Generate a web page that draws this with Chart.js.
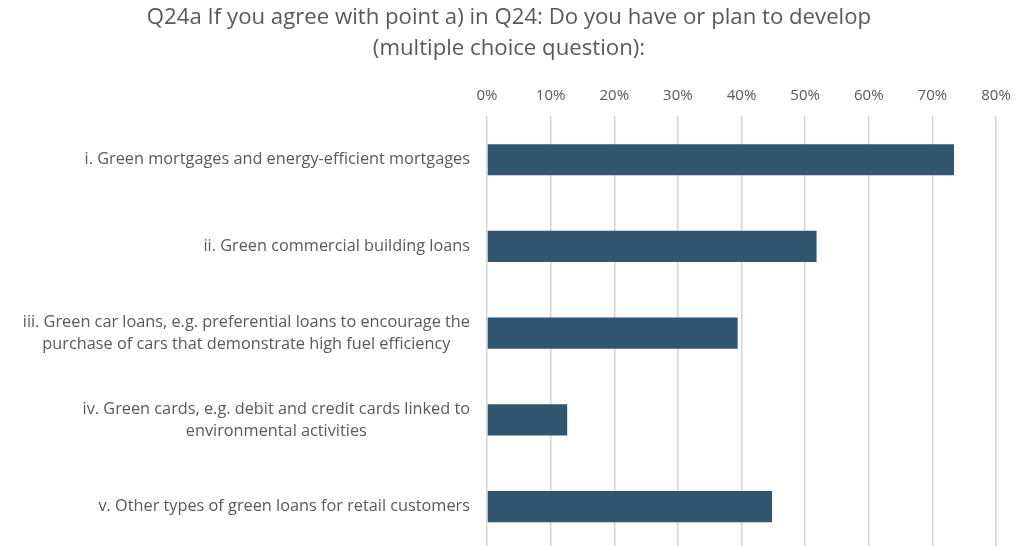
<!DOCTYPE html>
<html>
<head>
<meta charset="utf-8">
<script src="https://cdn.jsdelivr.net/npm/chart.js@4/dist/chart.umd.min.js"></script>
<style>
  html, body { margin: 0; padding: 0; background: #fff; overflow: hidden; }
  #wrap { position: relative; width: 1018px; height: 550px; }
</style>
</head>
<body>
<div id="wrap"><canvas id="chart"></canvas></div>
<script>
// Chart data
const categories = [
    ['i. Green mortgages and energy-efficient mortgages'],
    ['ii. Green commercial building loans'],
    ['iii. Green car loans, e.g. preferential loans to encourage the', 'purchase of cars that demonstrate high fuel efficiency'],
    ['iv. Green cards, e.g. debit and credit cards linked to', 'environmental activities'],
    ['v. Other types of green loans for retail customers']
];
const shares = [73.4, 51.8, 39.4, 12.6, 44.8];
const xTicks = [0, 10, 20, 30, 40, 50, 60, 70, 80];
const titleLines = ['Q24a If you agree with point a) in Q24: Do you have or plan to develop', '(multiple choice question):'];

const FONT = '"Open Sans", Lato, sans-serif';
const GREY = '#595959';

// Draw the category labels right-aligned as a block, each line centred inside it
const labelPlugin = {
    id: 'blockLabels',
    afterDraw(chart) {
        const ctx = chart.ctx;
        const y = chart.scales.y;
        const rightEdge = chart.chartArea.left - 17;
        const lineH = 22;
        ctx.save();
        ctx.font = '16.3px ' + FONT;
        ctx.fillStyle = GREY;
        ctx.textAlign = 'center';
        ctx.textBaseline = 'middle';
        categories.forEach((lines, i) => {
            const cy = y.getPixelForTick(i);
            const w = Math.max(...lines.map(l => ctx.measureText(l).width));
            const cx = rightEdge - w / 2;
            const top = cy - (lines.length - 1) * lineH / 2;
            lines.forEach((l, k) => ctx.fillText(l, cx, top + k * lineH));
        });
        ctx.restore();
    }
};

new Chart(document.getElementById('chart'), {
    type: 'bar',
    data: {
        labels: categories,
        datasets: [{
            data: shares,
            backgroundColor: '#305670',
            borderWidth: 0,
            categoryPercentage: 1,
            barPercentage: 0.36
        }]
    },
    options: {
        indexAxis: 'y',
        responsive: true,
        maintainAspectRatio: false,
        animation: false,
        layout: { padding: 0 },
        plugins: {
            legend: { display: false },
            tooltip: { enabled: false },
            title: {
                display: true,
                text: titleLines,
                color: GREY,
                font: { family: FONT, size: 22.2, weight: 'normal', lineHeight: 1.36 },
                padding: { top: 3, bottom: 11 }
            }
        },
        scales: {
            x: {
                position: 'top',
                min: 0,
                max: 80,
                afterBuildTicks(scale) {
                    scale.ticks = xTicks.map(v => ({ value: v }));
                },
                afterFit(scale) {
                    scale.paddingLeft = 0;
                    scale.paddingRight = 22;
                },
                ticks: {
                    color: GREY,
                    font: { family: FONT, size: 15 },
                    padding: 12,
                    callback: v => v + '%'
                },
                grid: { color: '#d6d6d6', lineWidth: 1.5, drawTicks: false },
                border: { display: false }
            },
            y: {
                ticks: { display: false },
                grid: { display: false },
                border: { display: false },
                afterFit(scale) { scale.width = 487; }
            }
        }
    },
    plugins: [labelPlugin]
});
</script>
</body>
</html>
